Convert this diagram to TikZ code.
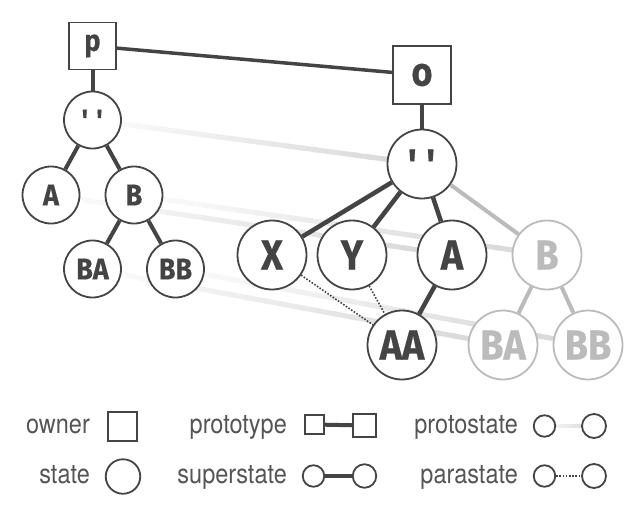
\documentclass[tikz,border=0pt]{standalone}
\usepackage{fontspec}
\usetikzlibrary{calc}
\newfontfamily\nodefont{Fira Sans}[FakeStretch=0.9,FakeBold=0.4]
\newfontfamily\legfont{TeX Gyre Heros}[FakeStretch=0.87]
\definecolor{ink}{HTML}{444444}
\definecolor{fade}{HTML}{BBBBBB}
\definecolor{legtext}{HTML}{555555}
\pgfdeclarelayer{bg}
\pgfsetlayers{bg,main}
\newcommand\protoline[3][5]{%
  \foreach \i in {0,...,23}{%
    \pgfmathsetmacro\ta{\i/24}%
    \pgfmathsetmacro\tb{min(1,(\i+1.4)/24)}%
    \pgfmathsetmacro\shadeval{1+15*(\i+0.5)/24}%
    \draw[line width=#1pt, color=black!\shadeval] ($(#2)!\ta!(#3)$) -- ($(#2)!\tb!(#3)$);
  }}
\newcommand\qq[1]{\textquotesingle\hspace{#1}\textquotesingle}
\begin{document}
\begin{tikzpicture}[x=1pt,y=-1pt,
  lstate/.style={circle,draw=ink,line width=1.8pt,fill=white,minimum size=57pt,inner sep=0pt,text=ink,
    font=\nodefont\bfseries\fontsize{30}{30}\selectfont},
  rstate/.style={lstate,minimum size=69pt,font=\nodefont\bfseries\fontsize{42}{42}\selectfont},
  faded/.style={draw=fade,text=fade},
  lowner/.style={rectangle,draw=ink,line width=1.8pt,fill=white,minimum size=47pt,inner sep=0pt,text=ink,
    font=\nodefont\bfseries\fontsize{30}{30}\selectfont},
  rowner/.style={lowner,minimum size=58pt,font=\nodefont\bfseries\fontsize{40}{40}\selectfont},
  pedge/.style={draw=ink,line width=3.5pt},
  ledge/.style={draw=ink,line width=4pt},
  redge/.style={draw=ink,line width=4.5pt},
  fedge/.style={draw=fade,line width=4pt},
  para/.style={draw=ink,line width=1.6pt,dash pattern=on 1.6pt off 1.6pt},
  legtxt/.style={anchor=base east,inner sep=0pt,text=legtext,font=\legfont\fontsize{27}{27}\selectfont},
  legbox/.style={rectangle,draw=ink,line width=1.8pt,fill=white,inner sep=0pt},
  legcirc/.style={circle,draw=ink,line width=1.8pt,fill=white,inner sep=0pt},
  leglink/.style={draw=ink,line width=4pt}
]
\useasboundingbox (0,0) rectangle (640,512);
\begin{pgfonlayer}{bg}
  \fill[white] (0,0) rectangle (640,512);
\end{pgfonlayer}

% left tree
\node[lowner] (p) at (92.5,46) {p};
\node[lstate] (lr) at (92.5,120) {\qq{0.25em}};
\node[lstate] (lA) at (51,195) {A};
\node[lstate] (lB) at (134,195) {B};
\node[lstate] (lBA) at (92.5,269) {BA};
\node[lstate] (lBB) at (175.5,269) {BB};

% right tree
\node[rowner] (o) at (422,75) {o};
\node[rstate] (rr) at (422,164) {\qq{0.2em}};
\node[rstate] (rX) at (272,255) {X};
\node[rstate] (rY) at (352,255) {Y};
\node[rstate] (rA) at (452,255) {A};
\node[rstate,faded] (rB) at (547,255) {B};
\node[rstate] (rAA) at (402,345) {AA};
\node[rstate,faded] (rBA) at (503,345) {BA};
\node[rstate,faded] (rBB) at (588,345) {BB};

% edges
\draw[pedge] (p) -- (o);
\draw[ledge] (p) -- (lr);
\draw[ledge] (lr) -- (lA);
\draw[ledge] (lr) -- (lB);
\draw[ledge] (lB) -- (lBA);
\draw[ledge] (lB) -- (lBB);
\draw[redge] (o) -- (rr);
\draw[redge] (rr) -- (rX);
\draw[redge] (rr) -- (rY);
\draw[redge] (rr) -- (rA);
\draw[redge] (rA) -- (rAA);
\draw[fedge] (rr) -- (rB);
\draw[fedge] (rB) -- (rBA);
\draw[fedge] (rB) -- (rBB);
\draw[para] (rX) -- (rAA);
\draw[para] (rY) -- (rAA);

% legend
\node[legtxt] (t1) at (90,433) {owner};
\node[legbox,minimum size=29.5pt] (k1) at (122.5,426.5) {};
\node[legtxt] (t2) at (90,483) {state};
\node[legcirc,minimum width=32.5pt,minimum height=34.5pt] (k2) at (123,476.5) {};

\node[legtxt] (t3) at (287,433) {prototype};
\node[legbox,minimum size=19.5pt] (k3a) at (314.5,424.5) {};
\node[legbox,minimum size=23.5pt] (k3b) at (364.5,425.5) {};
\draw[leglink] (k3a) -- (k3b);

\node[legtxt] (t4) at (287,483) {superstate};
\node[legcirc,minimum size=21.5pt] (k4a) at (313.5,476) {};
\node[legcirc,minimum size=23.5pt] (k4b) at (364.5,476) {};
\draw[leglink] (k4a) -- (k4b);

\node[legtxt] (t5) at (518,433) {protostate};
\node[legcirc,minimum size=21.5pt] (k5a) at (544.5,426) {};
\node[legcirc,minimum size=24pt] (k5b) at (594,426) {};

\node[legtxt] (t6) at (518,483) {parastate};
\node[legcirc,minimum size=21.5pt] (k6a) at (544.5,476) {};
\node[legcirc,minimum size=24pt] (k6b) at (594,476) {};
\draw[para] (k6a) -- (k6b);

% protostate links (behind)
\begin{pgfonlayer}{bg}
  \protoline{lr}{rr}
  \protoline{lA}{rA}
  \protoline{lB}{rB}
  \protoline{lBA}{rBA}
  \protoline{lBB}{rBB}
  \protoline[4]{k5a}{k5b}
\end{pgfonlayer}
\end{tikzpicture}
\end{document}
